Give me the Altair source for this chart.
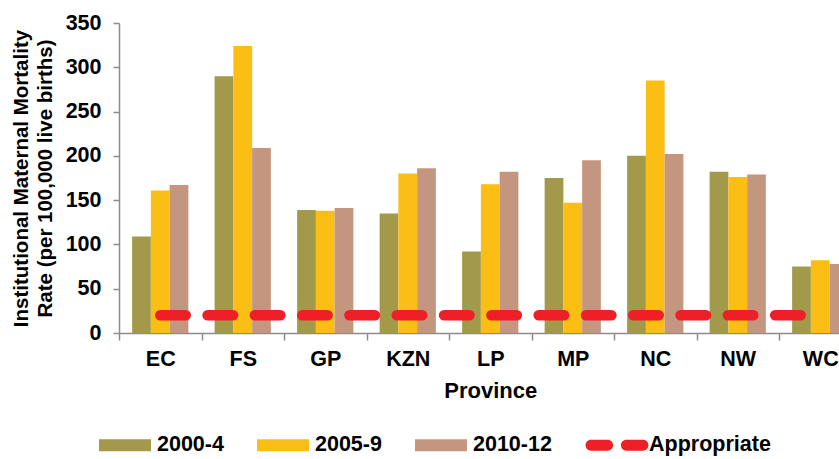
import altair as alt
import pandas as pd

# Institutional maternal mortality rate per 100,000 live births, by province
provinces = ["EC", "FS", "GP", "KZN", "LP", "MP", "NC", "NW", "WC"]
periods = ["2000-4", "2005-9", "2010-12"]
rate_2000_4 = [109, 290, 139, 135, 92, 175, 200, 182, 75]
rate_2005_9 = [161, 324, 138, 180, 168, 147, 285, 176, 82]
rate_2010_12 = [167, 209, 141, 186, 182, 195, 202, 179, 78]
appropriate = [20, 20, 20, 20, 20, 20, 20, 20, 20]
y_ticks = [0, 50, 100, 150, 200, 250, 300, 350]

colors = ["#A2994B", "#FBBE14", "#C4967F", "#EE1F26"]
FONT = "Liberation Sans"

rows = []
for period, series in zip(periods, [rate_2000_4, rate_2005_9, rate_2010_12]):
    for prov, val in zip(provinces, series):
        rows.append({"province": prov, "period": period, "rate": val})
bars_df = pd.DataFrame(rows)
line_df = pd.DataFrame({"province": provinces, "rate": appropriate})

# legend swatches: a wide flat rectangle, and two rounded dashes for the line
RECT = "M-1,-0.23H1V0.23H-1Z"
DASH = ("M-1,-0.21H-0.36A0.21,0.21 0 0 1 -0.36,0.21H-1A0.21,0.21 0 0 1 -1,-0.21Z"
        "M0.36,-0.21H1A0.21,0.21 0 0 1 1,0.21H0.36A0.21,0.21 0 0 1 0.36,-0.21Z")

x_scale = alt.Scale(domain=provinces, range=[0, 742.5], paddingInner=0, paddingOuter=0)
y_scale = alt.Scale(domain=[0, 350], nice=False)

x_axis = alt.Axis(
    title="Province", labelAngle=0, labelFont=FONT, labelFontSize=21.5,
    labelFontWeight="bold", labelColor="#000000", labelPadding=8,
    titleFont=FONT, titleFontSize=22, titleFontWeight="bold", titleColor="#000000",
    titlePadding=11, domainColor="#8C8C8C", domainWidth=1.5, tickColor="#8C8C8C",
    tickWidth=1.5, tickSize=7, tickBand="extent", grid=False,
)
y_axis = alt.Axis(
    title=["Institutional Maternal Mortality", "Rate (per 100,000 live births)"],
    values=y_ticks, labelFont=FONT, labelFontSize=21.5, labelFontWeight="bold",
    labelColor="#000000", labelPadding=12, titleFont=FONT, titleFontSize=20.5,
    titleFontWeight="bold", titleColor="#000000", titlePadding=10,
    titleLineHeight=24, domainColor="#8C8C8C", domainWidth=1.5,
    tickColor="#8C8C8C", tickWidth=1.5, tickSize=6, grid=False,
)

legend = alt.Legend(
    title=None, orient="none", legendX=-20, legendY=396, direction="horizontal",
    symbolType=alt.ExprRef(expr=f"datum.value === 'Appropriate' ? '{DASH}' : '{RECT}'"),
    symbolSize=2704, symbolStrokeWidth=0, symbolOpacity=1,
    labelFont=FONT, labelFontSize=21.5, labelFontWeight="bold", labelColor="#000000",
    labelOffset=6, columnPadding=33, padding=0,
)

bars = alt.Chart(bars_df).mark_bar().encode(
    x=alt.X("province:N", sort=provinces, scale=x_scale, axis=x_axis),
    xOffset=alt.XOffset("period:N", sort=periods,
                        scale=alt.Scale(paddingInner=0, paddingOuter=0.7)),
    y=alt.Y("rate:Q", scale=y_scale, axis=y_axis),
    color=alt.Color("period:N", sort=periods + ["Appropriate"],
                    scale=alt.Scale(domain=periods + ["Appropriate"], range=colors),
                    legend=legend),
)

line = alt.Chart(line_df).mark_line(
    color=colors[3], strokeWidth=10.5, strokeCap="round", strokeDash=[25.5, 21.8]
).encode(
    x=alt.X("province:N", sort=provinces, scale=x_scale),
    y=alt.Y("rate:Q", scale=y_scale),
)

chart = alt.layer(bars, line).properties(
    width=720, height=310,
    autosize=alt.AutoSizeParams(type="none"),
    padding={"left": 119, "top": 23, "right": 0, "bottom": 126},
    background="#FFFFFF",
).configure_view(stroke=None)

chart.save("out.html", embed_options={"renderer": "svg", "actions": False})
